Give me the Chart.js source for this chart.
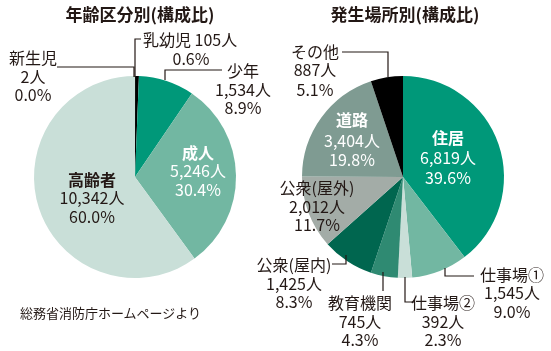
<!DOCTYPE html>
<html>
<head>
<meta charset="utf-8">
<script src="https://cdn.jsdelivr.net/npm/chart.js@4.4.0/dist/chart.umd.min.js"></script>
<style>
	html, body { margin: 0; padding: 0; background: #fff; }
	#wrap { position: relative; width: 551px; height: 351px; overflow: hidden; font-family: "Noto Sans CJK JP", "Noto Sans", sans-serif; color: #231815; }
	#wrap canvas { position: absolute; left: 0; top: 0; }
	.titolo { position: absolute; top: 1px; font-size: 17px; font-weight: bold; white-space: nowrap; transform: translateX(-50%); }
	#fonte { position: absolute; left: 20px; top: 303px; font-size: 13px; white-space: nowrap; }
</style>
</head>
<body>
<div id="wrap">
	<canvas id="etaChart" width="551" height="351"></canvas>
	<canvas id="luogoChart" width="551" height="351"></canvas>
	<div class="titolo" style="left:140px">年齢区分別(構成比)</div>
	<div class="titolo" style="left:405px">発生場所別(構成比)</div>
	<div id="fonte">総務省消防庁ホームページより</div>
</div>
<script>
// dati
const etaCategorie = ['新生児', '乳幼児', '少年', '成人', '高齢者'];
const etaValori = [2, 105, 1534, 5246, 10342];
const etaPercentuali = [0.0, 0.6, 8.9, 30.4, 60.0];

const luogoCategorie = ['住居', '仕事場①', '仕事場②', '教育機関', '公衆(屋内)', '公衆(屋外)', '道路', 'その他'];
const luogoValori = [6819, 1545, 392, 745, 1425, 2012, 3404, 887];
const luogoPercentuali = [39.6, 9.0, 2.3, 4.3, 8.3, 11.7, 19.8, 5.1];

// colori
const etaColori = ['#b0b0b0', '#000000', '#009879', '#72b7a2', '#c9dfd8'];
const luogoColori = ['#009879', '#72b7a2', '#c9dfd8', '#2f8a72', '#00664f', '#a3aca7', '#7f9b92', '#000000'];

const SCURO = '#231815';

// posizione delle etichette (coordinate pagina)
const etaEtichette = [
	{ x: 33, y: [58, 77, 95], leader: [[57, 67], [134, 67], [134, 77]] },
	{ inline: true, x: 143, y: [40, 59], x2: 191, leader: [[141, 39], [135, 39], [135, 77]] },
	{ x: 243, y: [71, 90, 108], leader: [[222, 70], [165, 70], [165, 80]] },
	{ x: 198, y: [153, 171, 190], colore: '#fff', grassetto: true },
	{ x: 92, y: [180, 198, 217], grassetto: true }
];
const luogoEtichette = [
	{ x: 448, y: [138, 158, 178], colore: '#fff', grassetto: true },
	{ x: 512, y: [275, 293, 312], leader: [[474, 276], [445, 276], [445, 268]] },
	{ x: 443, y: [303, 322, 340], leader: [[414, 302], [405, 302], [405, 277]] },
	{ x: 360, y: [303, 322, 340], leader: [[383, 291], [383, 272]] },
	{ x: 294, y: [265, 284, 302], leader: [[332, 264], [346, 264], [346, 255]] },
	{ x: 317, y: [188, 207, 225] },
	{ x: 352, y: [120, 141, 160], colore: '#fff', grassetto: true },
	{ x: 315, y: [52, 70, 90], leader: [[342, 52], [388, 52], [388, 77]] }
];

const FONT = '"Noto Sans CJK JP", "Noto Sans", sans-serif';

function numero(v){
	return v.toLocaleString('en-US') + '人';
}

// plugin per le etichette con linee guida
const etichettePlugin = {
	id: 'etichette',
	afterDraw(chart, args, opts){
		const ctx = chart.ctx;
		const ds = chart.data.datasets[0];
		ctx.save();
		ctx.textBaseline = 'middle';
		ctx.textAlign = 'center';
		opts.layout.forEach((lab, i) => {
			if(lab.leader){
				ctx.strokeStyle = SCURO;
				ctx.lineWidth = 1.2;
				ctx.beginPath();
				lab.leader.forEach((p, k) => k ? ctx.lineTo(p[0], p[1]) : ctx.moveTo(p[0], p[1]));
				ctx.stroke();
			}
			const nome = chart.data.labels[i];
			const val = numero(ds.data[i]);
			const pct = opts.percentuali[i].toFixed(1) + '%';
			ctx.fillStyle = lab.colore || SCURO;
			if(lab.inline){
				ctx.textAlign = 'left';
				ctx.font = '16px ' + FONT;
				ctx.fillText(nome + ' ' + val, lab.x, lab.y[0]);
				ctx.textAlign = 'center';
				ctx.fillText(pct, lab.x2, lab.y[1]);
				return;
			}
			ctx.font = (lab.grassetto ? 'bold ' : '') + '16px ' + FONT;
			ctx.fillText(nome, lab.x, lab.y[0]);
			ctx.font = '16px ' + FONT;
			ctx.fillText(val, lab.x, lab.y[1]);
			ctx.fillText(pct, lab.x, lab.y[2]);
		});
		ctx.restore();
	}
};

function creaTorta(id, categorie, valori, colori, percentuali, layoutEtichette, padding){
	const ctx = document.getElementById(id).getContext('2d');
	return new Chart(ctx, {
		type: 'pie',
		data: {
			labels: categorie,
			datasets: [{
				data: valori,
				backgroundColor: colori,
				borderWidth: 0
			}]
		},
		options: {
			responsive: false,
			animation: false,
			events: [],
			layout: { padding: padding },
			plugins: {
				legend: { display: false },
				tooltip: { enabled: false },
				etichette: { layout: layoutEtichette, percentuali: percentuali }
			}
		},
		plugins: [etichettePlugin]
	});
}

creaTorta('etaChart', etaCategorie, etaValori, etaColori, etaPercentuali, etaEtichette,
	{ left: 34, right: 315, top: 76, bottom: 73 });
creaTorta('luogoChart', luogoCategorie, luogoValori, luogoColori, luogoPercentuali, luogoEtichette,
	{ left: 302, right: 47, top: 76, bottom: 73 });
</script>
</body>
</html>
